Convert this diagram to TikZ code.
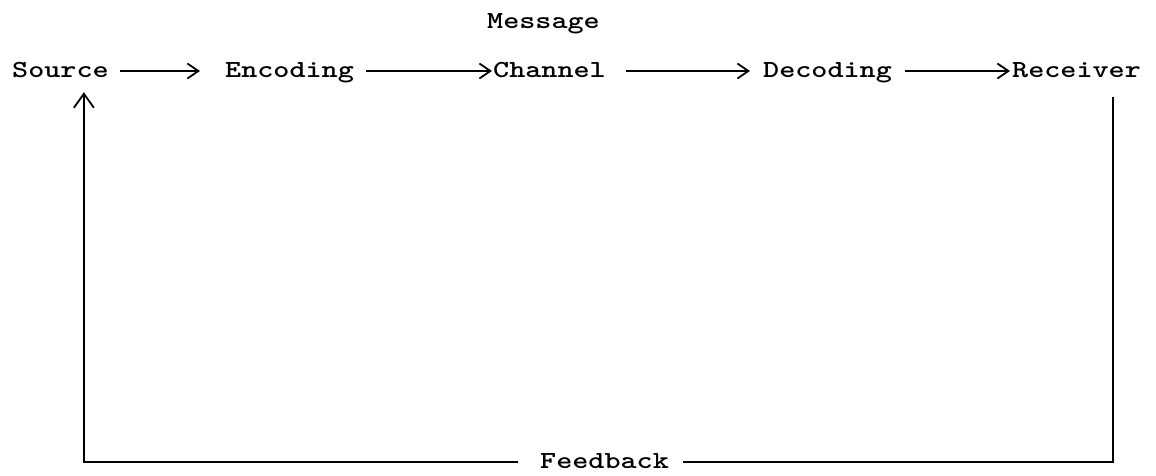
\documentclass[tikz,border=0pt]{standalone}
\usepackage{graphicx}
\usetikzlibrary{arrows.meta,calc}
\newcommand{\tw}[1]{\scalebox{1.25}[1]{#1}}
\tikzset{
  lbl/.style={inner sep=0pt, text height=12pt, text depth=0pt, font=\fontsize{24.5}{28}\selectfont\ttfamily\bfseries},
  flow/.style={line width=1.8pt, -{Straight Barb[length=11pt,width=15pt,line width=1.8pt]}},
  fb/.style={line width=2.6pt},
}
\begin{document}
\begin{tikzpicture}[x=1pt,y=1pt,yscale=-1]
    \useasboundingbox (0,0) rectangle (1156,475);

    % Text Node
    \node[lbl, anchor=west] (source) at (12,71) {\tw{Source}};
    % Text Node
    \node[lbl, anchor=west] (encoding) at (225,71) {\tw{Encoding}};
    % Text Node
    \node[lbl, anchor=west] (channel) at (493,71) {\tw{Channel}};
    % Text Node
    \node[lbl, anchor=west] (decoding) at (763,71) {\tw{Decoding}};
    % Text Node
    \node[lbl, anchor=west] (receiver) at (1012,71) {\tw{Receiver}};
    % Text Node
    \node[lbl, anchor=west] (message) at (487,22) {\tw{Message}};
    % Text Node
    \node[lbl, anchor=west] (feedback) at (540,462) {\tw{Feedback}};

    %Straight Lines
    \draw[flow, shorten <=11pt, shorten >=25pt] (source) -- (encoding);
    \draw[flow, shorten <=12pt, shorten >=1pt] (encoding) -- (channel);
    \draw[flow, shorten <=20pt, shorten >=13pt] (channel) -- (decoding);
    \draw[flow, shorten <=13pt, shorten >=2pt] (decoding) -- (receiver);

    %Feedback loop
    \draw[fb, shorten <=14pt] (feedback.east) -| ($(receiver.south east)+(-28,20)$);
    \draw[fb, shorten <=22pt, -{Straight Barb[length=14pt,width=20pt,line width=1.8pt]}] (feedback.west) -| ($(source.south east)+(-25,15)$);

\end{tikzpicture}
\end{document}
